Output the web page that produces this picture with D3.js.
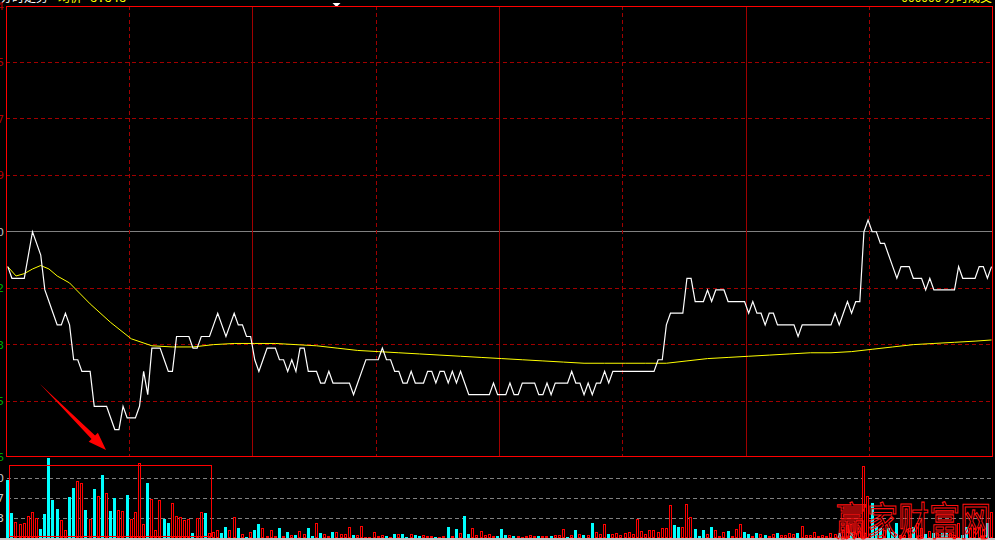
<!DOCTYPE html>
<html><head><meta charset="utf-8">
<script src="https://cdn.jsdelivr.net/npm/d3@7/dist/d3.min.js"></script>
<style>html,body{margin:0;padding:0;background:#000;overflow:hidden}svg{display:block}</style>
</head><body>
<svg id="c" width="995" height="540"></svg>
<script>
// ---------------- data ----------------
const prevClose = 8.94;
const priceTickValues = [9.134, 9.0855, 9.037, 8.9885, 8.94, 8.8915, 8.843, 8.7945, 8.746];
const priceTickLabels = ["9.134", "9.085", "9.037", "8.989", "8.940", "8.892", "8.843", "8.795", "8.746"];
const volTickValues = [1510, 1007, 503];
const volTickLabels = ["1510", "1007", "503"];
const minuteGrid = [30, 60, 90, 120, 150, 180, 210];

const prices = [
 8.91,8.90,8.90,8.90,8.90,8.92,8.94,8.93,8.92,8.89,
 8.88,8.87,8.86,8.86,8.87,8.86,8.83,8.83,8.82,8.82,
 8.82,8.79,8.79,8.79,8.79,8.78,8.77,8.77,8.79,8.78,
 8.78,8.78,8.79,8.82,8.80,8.84,8.84,8.84,8.83,8.82,
 8.82,8.85,8.85,8.85,8.85,8.84,8.84,8.85,8.85,8.85,
 8.86,8.87,8.86,8.85,8.86,8.87,8.86,8.86,8.85,8.85,
 8.83,8.82,8.83,8.84,8.84,8.84,8.83,8.83,8.82,8.83,
 8.82,8.84,8.84,8.82,8.82,8.82,8.81,8.81,8.82,8.81,
 8.81,8.81,8.81,8.81,8.80,8.81,8.82,8.83,8.83,8.83,
 8.83,8.84,8.83,8.83,8.82,8.82,8.81,8.81,8.82,8.81,
 8.81,8.81,8.82,8.82,8.81,8.82,8.82,8.81,8.82,8.81,
 8.82,8.81,8.80,8.80,8.80,8.80,8.80,8.80,8.81,8.80,
 8.80,8.80,8.81,8.80,8.80,8.81,8.81,8.81,8.81,8.80,
 8.80,8.81,8.80,8.81,8.81,8.81,8.81,8.82,8.81,8.81,
 8.80,8.81,8.80,8.81,8.81,8.82,8.81,8.82,8.82,8.82,
 8.82,8.82,8.82,8.82,8.82,8.82,8.82,8.82,8.83,8.83,
 8.86,8.87,8.87,8.87,8.87,8.90,8.90,8.88,8.88,8.88,
 8.89,8.88,8.89,8.89,8.89,8.88,8.88,8.88,8.88,8.88,
 8.87,8.88,8.87,8.87,8.86,8.87,8.87,8.86,8.86,8.86,
 8.86,8.86,8.85,8.86,8.86,8.86,8.86,8.86,8.86,8.86,
 8.86,8.87,8.86,8.87,8.88,8.87,8.88,8.88,8.94,8.95,
 8.94,8.94,8.93,8.93,8.92,8.91,8.90,8.91,8.91,8.91,
 8.90,8.90,8.90,8.89,8.90,8.89,8.89,8.89,8.89,8.89,
 8.89,8.91,8.90,8.90,8.90,8.90,8.91,8.91,8.90,8.91
];

const avgMinutes = [0,2,4,6,8,10,12,15,20,25,30,35,40,45,50,55,60,65,70,75,80,85,90,95,100,105,110,115,120,125,130,135,140,145,150,155,160,165,170,175,180,185,190,195,200,205,210,215,220,225,230,235,239];
const avgPrices = [8.910,8.902,8.904,8.908,8.911,8.908,8.902,8.896,8.878,8.862,8.848,8.842,8.841,8.841,8.843,8.844,8.844,8.844,8.843,8.842,8.840,8.838,8.837,8.836,8.835,8.834,8.833,8.832,8.831,8.830,8.829,8.828,8.827,8.827,8.827,8.827,8.827,8.829,8.831,8.832,8.833,8.834,8.835,8.836,8.836,8.837,8.839,8.841,8.843,8.844,8.845,8.846,8.847];

const volumes = [
 1450,625,400,350,375,550,650,500,225,600,
 2025,950,725,450,200,1025,1250,1425,1375,700,
 475,1225,1050,1575,1125,675,1000,700,675,1075,
 475,650,1900,350,1375,975,200,950,475,375,
 875,550,525,450,475,125,500,650,625,125,
 150,200,125,275,200,525,250,100,25,150,
 200,350,250,50,200,50,250,50,150,75,
 75,175,100,250,50,375,125,100,50,150,
 150,100,100,275,75,75,300,25,25,150,
 50,75,50,25,100,100,100,25,100,75,
 50,75,50,50,25,25,50,275,50,225,
 125,550,100,250,75,175,75,100,50,50,
 225,75,75,50,50,25,50,75,50,50,
 50,50,50,75,75,225,25,75,200,100,
 75,75,375,150,100,350,100,100,125,75,
 125,150,100,475,175,100,200,200,150,250,
 250,825,325,275,275,850,525,225,50,200,
 100,275,200,50,150,175,50,225,350,150,
 100,50,125,100,75,50,100,125,75,75,
 125,100,125,300,75,75,150,50,75,50,
 125,100,125,200,325,150,125,175,1800,1050,
 875,300,250,200,250,150,375,75,75,250,
 275,375,250,100,175,125,125,125,125,125,
 75,375,75,275,250,250,275,225,375,650
];
// u = up minute (red hollow), d = down minute (cyan)
const volDirection = [
 "dduuuuuudd","ddduudduud","udududduud","uuuuduuudd","uuuuuduudu","uudduududu",
 "dduuuududu","duudduduud","uuuuduuuuu","uudududdud","duuuduudud","udduuuuuud",
 "dduduuuuud","uuduuududu","duduuuduuu","uuuuuuuuuu","uudduuuddd","uduuuduuud",
 "dududuuduu","uuduuuuuuu","uuduuduuuu","ddduddduuu","duudududdu","uudduuuudu"
].join("").split("");

const titleLeft = "分时走势";
const titleAvgLabel = "均价";
const titleAvgValue = "8.848";
const titleRight = "000000 分时成交";
const watermark = "赢家财富网";

// ---------------- layout ----------------
const svg = d3.select("#c");
const T = 6, B = 457;
const volTop = 457, volBase = 538;

svg.append("rect").attr("width", 995).attr("height", 540).attr("fill", "#000");

const xg = d3.scaleLinear().domain([0, 240]).range([6, 992.7]);     // time grid
const xb = d3.scaleLinear().domain([0, 240]).range([6.2, 994.04]);  // minute slots
const y = d3.scaleLinear().domain([8.746, 9.134]).range([457.5, 6]);
const yv = d3.scaleLinear().domain([0, 2038.5]).range([volBase, volTop]);

// top texts (mostly cut by the window edge, as in the reference)
const fontCJK = "'Noto Sans CJK SC','DejaVu Sans',sans-serif";
svg.append("text").attr("x", 0).attr("y", 2).attr("fill", "#fff").attr("font-size", 12).attr("font-family", fontCJK).text(titleLeft);
svg.append("text").attr("x", 58).attr("y", 2).attr("fill", "#ff0").attr("font-size", 12).attr("font-family", fontCJK).text(titleAvgLabel);
svg.append("text").attr("x", 90).attr("y", 2).attr("fill", "#ff0").attr("font-size", 12).attr("font-family", "'DejaVu Sans Mono',monospace").text(titleAvgValue);
svg.append("text").attr("x", 992).attr("y", 2).attr("text-anchor", "end").attr("fill", "#ff0").attr("font-size", 12).attr("font-family", fontCJK).text(titleRight);
svg.append("path").attr("d", d3.line()([[332.5, 3], [340.5, 3], [336.5, 7]]) + "Z").attr("fill", "#fff");

// horizontal grid
const grid = svg.append("g").attr("shape-rendering", "crispEdges");
priceTickValues.forEach((v, j) => {
  if (j === 0 || j === priceTickValues.length - 1) return;
  const yy = Math.floor(y(v)) + 0.5;
  const isPrev = v === prevClose;
  grid.append("line").attr("x1", 6).attr("x2", 992).attr("y1", yy).attr("y2", yy)
    .attr("stroke", isPrev ? "#808080" : "#a00000").attr("stroke-width", 1)
    .attr("stroke-dasharray", isPrev ? null : "4,3");
});
// vertical grid
minuteGrid.forEach(m => {
  const xx = Math.floor(xg(m)) + 0.5;
  const solid = (m % 60 === 0);
  grid.append("line").attr("x1", xx).attr("x2", xx).attr("y1", T).attr("y2", B)
    .attr("stroke", "#a00000").attr("stroke-dasharray", solid ? null : "4,3");
});

// price axis labels (only the last digit is inside the window)
const axisG = svg.append("g").attr("font-family", "'DejaVu Sans',sans-serif").attr("font-size", 11);
priceTickValues.forEach((v, j) => {
  const col = v > prevClose ? "#b00000" : (v === prevClose ? "#c0c0c0" : "#00a800");
  axisG.append("text").attr("x", 4).attr("y", y(v)).attr("dy", "0.36em").attr("text-anchor", "end")
    .attr("fill", col).text(priceTickLabels[j]);
});

// avg line
svg.append("path")
  .datum(avgMinutes.map((m, k) => [m, avgPrices[k]]))
  .attr("fill", "none").attr("stroke", "#ffff00").attr("stroke-width", 1)
  .attr("d", d3.line().x(d => xb(d[0] + 0.39)).y(d => y(d[1])));

// price line
svg.append("path")
  .datum(prices)
  .attr("fill", "none").attr("stroke", "#ffffff").attr("stroke-width", 1.2)
  .attr("d", d3.line().x((d, i) => xb(i + 0.39)).y(d => y(d)));

// main frame
svg.append("rect").attr("x", 6.5).attr("y", 6.5).attr("width", 986).attr("height", 450)
  .attr("fill", "none").attr("stroke", "#ff0000").attr("stroke-width", 1).attr("shape-rendering", "crispEdges");

// volume grid
const vg = svg.append("g").attr("shape-rendering", "crispEdges");
volTickValues.forEach((v, j) => {
  const yy = Math.round(yv(v)) + 0.5;
  vg.append("line").attr("x1", 7).attr("x2", 992).attr("y1", yy).attr("y2", yy)
    .attr("stroke", "#808080").attr("stroke-dasharray", "4,3");
  axisG.append("text").attr("x", 4).attr("y", yv(v)).attr("dy", "0.36em").attr("text-anchor", "end")
    .attr("fill", "#c8c8c8").text(volTickLabels[j]);
});

// volume bars
const bars = svg.append("g").attr("shape-rendering", "crispEdges");
volumes.forEach((v, i) => {
  const x0 = Math.round(xb(i));
  const top = Math.round(yv(v));
  const h = Math.max(volBase - top, 1);
  if (volDirection[i] === "d") {
    bars.append("rect").attr("x", x0).attr("y", top).attr("width", 3).attr("height", h).attr("fill", "#00ffff");
  } else {
    bars.append("rect").attr("x", x0).attr("y", top).attr("width", 3).attr("height", h).attr("fill", "#ff0000");
    if (h > 2) {
      bars.append("rect").attr("x", x0 + 1).attr("y", top + 1).attr("width", 1).attr("height", h - 2).attr("fill", "#000");
    }
  }
});

// bottom band
svg.append("rect").attr("x", 0).attr("y", volBase).attr("width", 995).attr("height", 2).attr("fill", "#c0c0c0");

// annotation: highlight box over the early volume bars
svg.append("rect").attr("x", 9.5).attr("y", 465.5).attr("width", 202).attr("height", 71)
  .attr("fill", "none").attr("stroke", "#ff0000").attr("stroke-width", 1).attr("shape-rendering", "crispEdges");

// annotation: red arrow
(function () {
  const tail = [40, 384], tip = [106, 450];
  const dx = tip[0] - tail[0], dy = tip[1] - tail[1];
  const len = Math.hypot(dx, dy), ux = dx / len, uy = dy / len, px = -uy, py = ux;
  const hb = [tip[0] - ux * 18, tip[1] - uy * 18];
  const pts = [
    tail,
    [hb[0] + px * 2.5, hb[1] + py * 2.5],
    [hb[0] + px * 6.5, hb[1] + py * 6.5],
    tip,
    [hb[0] - px * 6.5, hb[1] - py * 6.5],
    [hb[0] - px * 2.5, hb[1] - py * 2.5]
  ];
  svg.append("path").attr("d", d3.line()(pts) + "Z").attr("fill", "#ff0000");
})();

// watermark
svg.append("text").attr("transform", "translate(836,535) scale(1,1.25)")
  .attr("font-family", fontCJK).attr("font-size", 31).attr("fill", "none")
  .attr("stroke", "#ff1010").attr("stroke-width", 0.9).text(watermark);
</script>
</body></html>
